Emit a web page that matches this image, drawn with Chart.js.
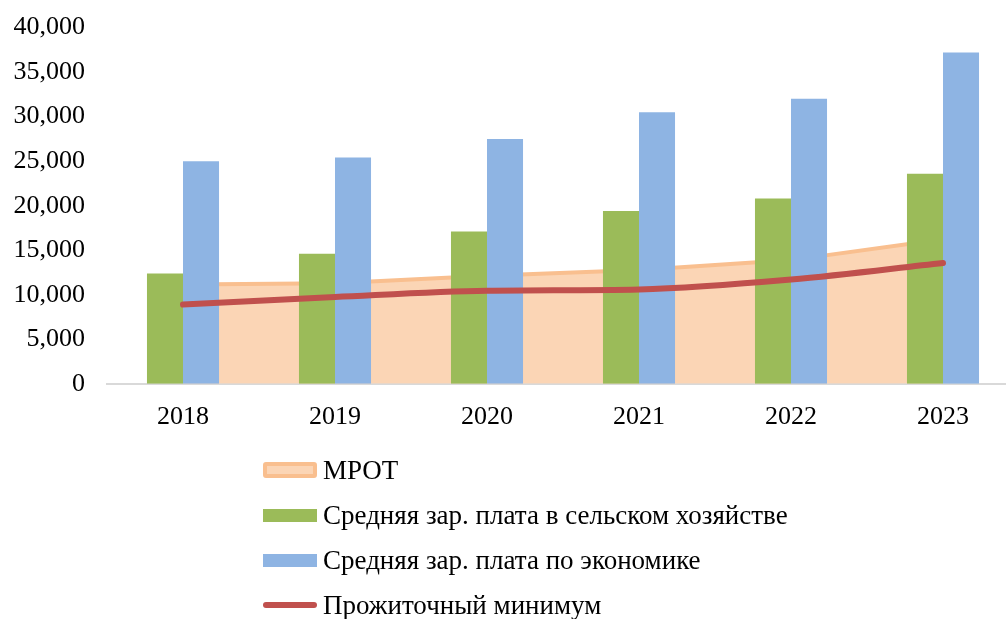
<!DOCTYPE html>
<html>
<head>
<meta charset="utf-8">
<script src="https://cdn.jsdelivr.net/npm/chart.js@4"></script>
<style>
  body { margin: 0; background: #fff; }
  #wrap { position: relative; width: 1006px; height: 619px; overflow: hidden; }
  #myChart { position: absolute; left: 0; top: -10px; }
  #legend { position: absolute; left: 0; top: 0; font-family: "Liberation Serif", "Times New Roman", serif; font-size: 27px; color: #000; }
  .item { position: absolute; left: 263px; height: 30px; display: flex; align-items: center; white-space: nowrap; }
  .sw { width: 54px; margin-right: 6px; box-sizing: border-box; }
</style>
</head>
<body>
<div id="wrap">
  <canvas id="myChart" width="1019" height="629"></canvas>
  <div id="legend"></div>
</div>
<script>
const years = ['2018', '2019', '2020', '2021', '2022', '2023'];
const mrot = [11163, 11280, 12130, 12792, 13890, 16242];
const agriWage = [12400, 14600, 17100, 19400, 20800, 23600];
const econWage = [25000, 25400, 27500, 30500, 32000, 37200];
const subsistence = [8900, 9750, 10450, 10600, 11700, 13560];
const yTicks = [0, 5000, 10000, 15000, 20000, 25000, 30000, 35000, 40000];

const serif = '"Liberation Serif", "Times New Roman", serif';
const ctx = document.getElementById('myChart').getContext('2d');

const chart = new Chart(ctx, {
    data: {
        labels: years,
        datasets: [
            {
                type: 'line',
                label: 'МРОТ',
                data: mrot,
                backgroundColor: '#fbd5b5',
                borderColor: '#f9bf8f',
                borderWidth: 4,
                fill: 'origin',
                pointRadius: 0,
                tension: 0,
                order: 4
            },
            {
                type: 'bar',
                label: 'Средняя зар. плата в сельском хозяйстве',
                data: agriWage,
                backgroundColor: '#9bbb59',
                categoryPercentage: 0.474,
                barPercentage: 1,
                order: 2
            },
            {
                type: 'bar',
                label: 'Средняя зар. плата по экономике',
                data: econWage,
                backgroundColor: '#8eb4e3',
                categoryPercentage: 0.474,
                barPercentage: 1,
                order: 3
            },
            {
                type: 'line',
                label: 'Прожиточный минимум',
                data: subsistence,
                borderColor: '#c0504d',
                backgroundColor: '#c0504d',
                borderWidth: 6,
                borderCapStyle: 'round',
                pointRadius: 0,
                fill: false,
                cubicInterpolationMode: 'monotone',
                order: 1
            }
        ]
    },
    options: {
        responsive: false,
        animation: false,
        layout: { padding: { top: 16, right: 0, bottom: 168, left: 0 } },
        plugins: {
            legend: { display: false },
            tooltip: { enabled: false }
        },
        scales: {
            x: {
                grid: { display: false, drawTicks: false },
                border: { display: true, color: '#d9d9d9', width: 2 },
                ticks: { color: '#000', font: { family: serif, size: 26 }, padding: 18 }
            },
            y: {
                min: 0,
                max: 40000,
                afterFit: s => { s.width = 107; },
                afterBuildTicks: s => { s.ticks = yTicks.map(v => ({ value: v })); },
                grid: { display: false, drawTicks: false },
                border: { display: false },
                ticks: {
                    color: '#000',
                    font: { family: serif, size: 26 },
                    padding: 22,
                    callback: v => v.toLocaleString('en-US')
                }
            }
        }
    }
});

// legend as a vertical list under the chart, like in the source picture
const legendRows = [470, 515, 560, 605];
const legendEl = document.getElementById('legend');
chart.data.datasets.forEach((ds, i) => {
    const row = document.createElement('div');
    row.className = 'item';
    row.style.top = (legendRows[i] - 15) + 'px';
    const sw = document.createElement('span');
    sw.className = 'sw';
    if (ds.type === 'bar') {
        sw.style.height = '13px';
        sw.style.background = ds.backgroundColor;
    } else if (ds.fill) {
        sw.style.height = '16px';
        sw.style.background = ds.backgroundColor;
        sw.style.border = '4px solid ' + ds.borderColor;
        sw.style.borderRadius = '3px';
    } else {
        sw.style.height = '6px';
        sw.style.background = ds.borderColor;
        sw.style.borderRadius = '3px';
    }
    const txt = document.createElement('span');
    txt.textContent = ds.label;
    row.appendChild(sw);
    row.appendChild(txt);
    legendEl.appendChild(row);
});
</script>
</body>
</html>
